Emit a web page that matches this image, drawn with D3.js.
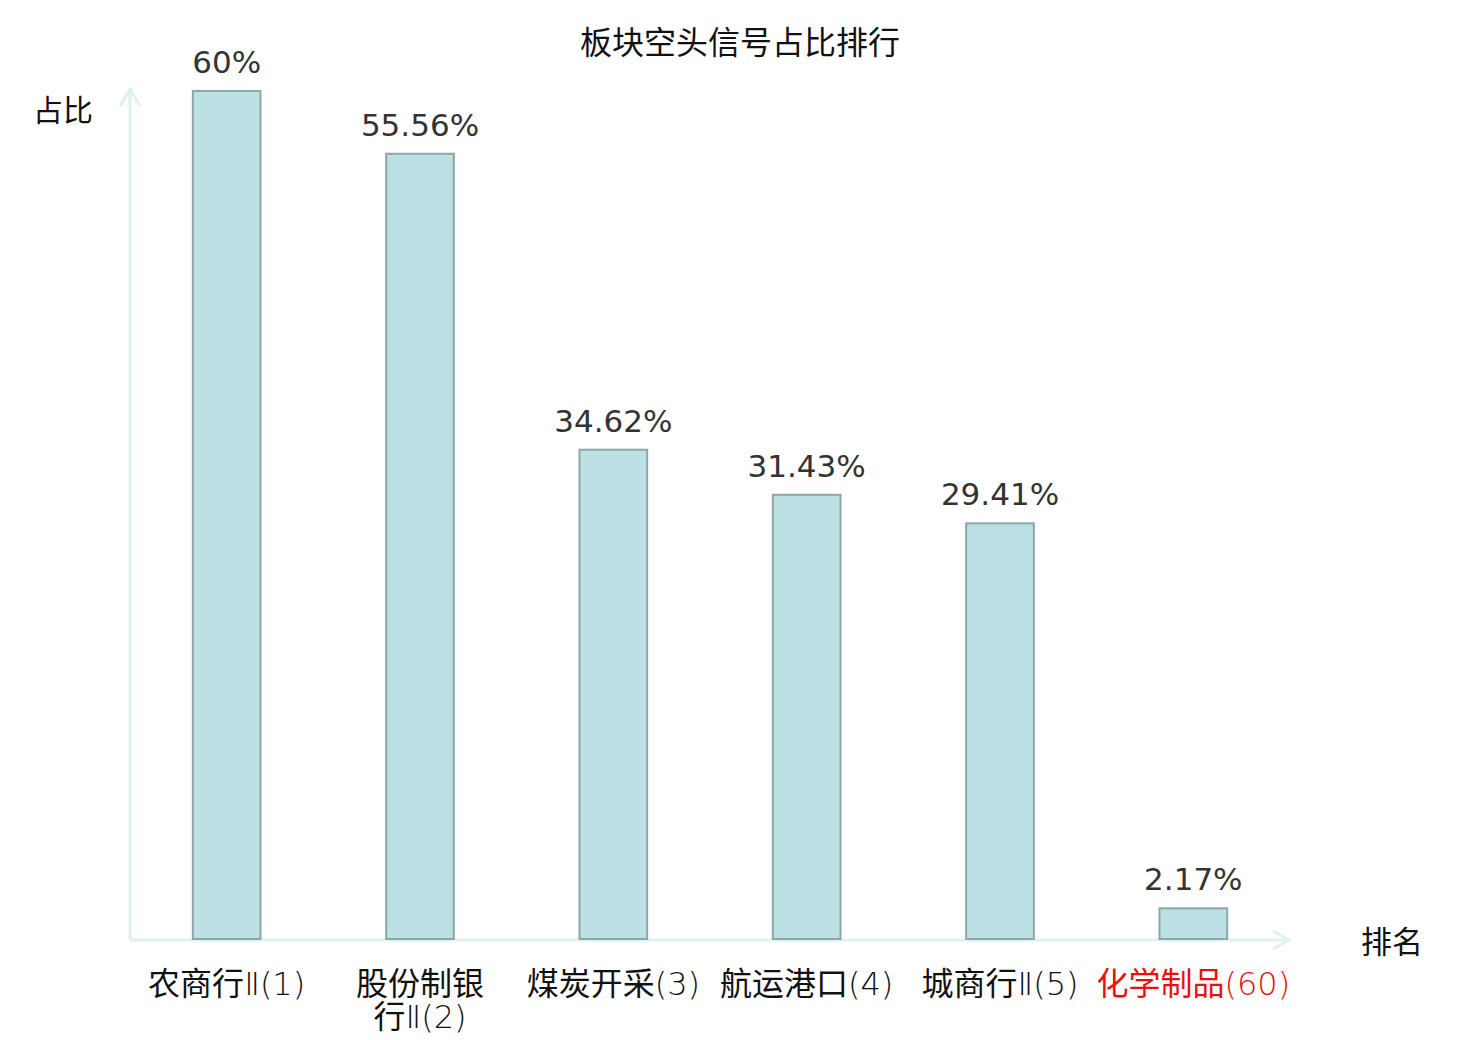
<!DOCTYPE html>
<html>
<head>
<meta charset="utf-8">
<script src="https://cdn.jsdelivr.net/npm/d3@7"></script>
<style>
  html, body { margin: 0; padding: 0; background: #fff; }
</style>
</head>
<body>
<div id="wrapper"></div>
<script>
const categories = ["农商行Ⅱ(1)", "股份制银行Ⅱ(2)", "煤炭开采(3)", "航运港口(4)", "城商行Ⅱ(5)", "化学制品(60)"];
const labelLines = [["农商行Ⅱ(1)"], ["股份制银", "行Ⅱ(2)"], ["煤炭开采(3)"], ["航运港口(4)"], ["城商行Ⅱ(5)"], ["化学制品(60)"]];
const values = [60, 55.56, 34.62, 31.43, 29.41, 2.17];
const valueLabels = ["60%", "55.56%", "34.62%", "31.43%", "29.41%", "2.17%"];
const highlighted = [false, false, false, false, false, true];

const TITLE = "板块空头信号占比排行";
const Y_NAME = "占比";
const X_NAME = "排名";

const AXIS_COLOR = "#dff2f0";
const BAR_FILL = "#bce0e3";
const BAR_STROKE = "#8ba7a9";
const VALUE_COLOR = "#333";
const CJK = "'Noto Sans CJK SC', 'DejaVu Sans', sans-serif";
const LATIN = "'DejaVu Sans', 'Noto Sans CJK SC', sans-serif";

const width = 1480;
const height = 1040;

const dimensions = {
    width: width,
    height: height,
    margin: { top: 91, right: 190, bottom: 101, left: 130 },
};
dimensions.boundedWidth = dimensions.width - dimensions.margin.left - dimensions.margin.right;
dimensions.boundedHeight = dimensions.height - dimensions.margin.top - dimensions.margin.bottom;

const svg = d3.select("#wrapper")
    .append("svg")
    .attr("width", dimensions.width)
    .attr("height", dimensions.height);

const bounds = svg.append("g")
    .attr("transform", `translate(${dimensions.margin.left},${dimensions.margin.top})`);

const xScale = d3.scaleBand()
    .domain(categories)
    .range([0, dimensions.boundedWidth]);

const yScale = d3.scaleLinear()
    .domain([0, 60])
    .range([dimensions.boundedHeight, 0]);

const barWidth = xScale.bandwidth() * 0.35;
const cx = d => xScale(d) + xScale.bandwidth() / 2;

// title
svg.append("text")
    .attr("x", 740)
    .attr("y", 54)
    .attr("text-anchor", "middle")
    .style("font-family", CJK)
    .style("font-size", "32px")
    .attr("fill", "#111")
    .text(TITLE);

// axes
const axes = bounds.append("g")
    .attr("stroke", AXIS_COLOR)
    .attr("stroke-width", 3)
    .attr("fill", "none");

axes.append("line")
    .attr("x1", 0).attr("y1", dimensions.boundedHeight + 1)
    .attr("x2", 0).attr("y2", -3);
axes.append("polyline")
    .attr("points", "-10,15 0,-2 10,15");

axes.append("line")
    .attr("x1", 0).attr("y1", dimensions.boundedHeight + 1)
    .attr("x2", dimensions.boundedWidth).attr("y2", dimensions.boundedHeight + 1);
axes.append("polyline")
    .attr("points", `${dimensions.boundedWidth - 17},${dimensions.boundedHeight - 8} ${dimensions.boundedWidth - 1},${dimensions.boundedHeight + 1} ${dimensions.boundedWidth - 17},${dimensions.boundedHeight + 10}`);

// axis names
svg.append("text")
    .attr("x", 63).attr("y", 121)
    .attr("text-anchor", "middle")
    .style("font-family", CJK).style("font-size", "30px")
    .attr("fill", "#111")
    .text(Y_NAME);
svg.append("text")
    .attr("x", 1392).attr("y", 953)
    .attr("text-anchor", "middle")
    .style("font-family", CJK).style("font-size", "31px")
    .attr("fill", "#111")
    .text(X_NAME);

// bars
const barGroups = bounds.selectAll(".bar")
    .data(categories)
    .enter().append("g")
    .attr("class", "bar");

barGroups.append("rect")
    .attr("x", d => cx(d) - barWidth / 2)
    .attr("y", (d, i) => yScale(values[i]))
    .attr("width", barWidth)
    .attr("height", (d, i) => dimensions.boundedHeight - yScale(values[i]))
    .attr("fill", BAR_FILL)
    .attr("stroke", BAR_STROKE)
    .attr("stroke-width", 2);

barGroups.append("text")
    .attr("x", cx)
    .attr("y", (d, i) => yScale(values[i]) - 18)
    .attr("text-anchor", "middle")
    .style("font-family", LATIN)
    .style("font-size", "31px")
    .attr("fill", VALUE_COLOR)
    .text((d, i) => valueLabels[i]);

// category labels: CJK runs in Noto CJK, the rest in a light Latin face
const catLabels = barGroups.append("text")
    .attr("x", cx)
    .attr("y", dimensions.boundedHeight + 56)
    .attr("text-anchor", "middle")
    .style("font-size", "32px")
    .attr("fill", (d, i) => highlighted[i] ? "#e8110f" : "#111");

catLabels.selectAll(".line")
    .data((d, i) => labelLines[i])
    .enter().append("tspan")
    .attr("class", "line")
    .attr("x", function () { return d3.select(this.parentNode).attr("x"); })
    .attr("dy", (d, j) => j === 0 ? 0 : 33)
    .each(function (line) {
        const runs = line.match(/[\u4e00-\u9fff]+|[^\u4e00-\u9fff]+/g);
        const lineSel = d3.select(this);
        runs.forEach(run => {
            const isCjk = /[\u4e00-\u9fff]/.test(run);
            lineSel.append("tspan")
                .style("font-family", isCjk ? CJK : LATIN)
                .style("font-weight", isCjk ? 400 : 200)
                .text(run);
        });
    });
</script>
</body>
</html>
